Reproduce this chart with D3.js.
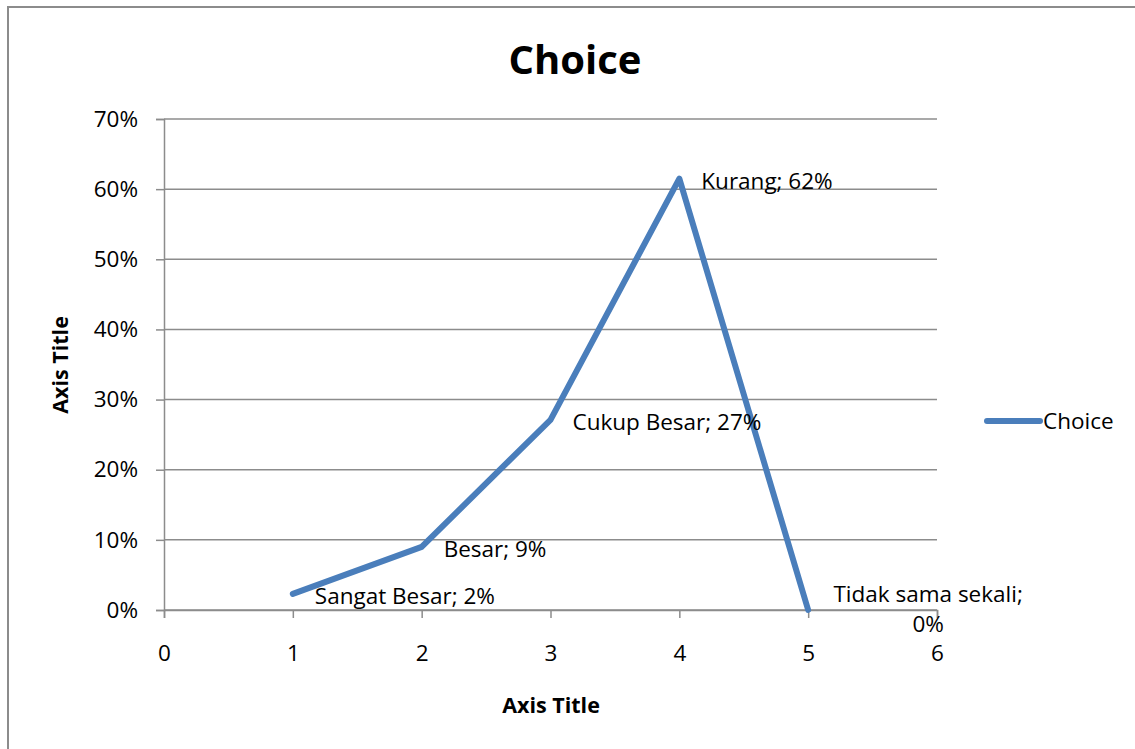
<!DOCTYPE html>
<html>
<head>
<meta charset="utf-8">
<script src="https://cdn.jsdelivr.net/npm/d3@7"></script>
<style>
  html, body { margin: 0; padding: 0; background: #fff; }
  svg { display: block; font-family: "Open Sans", "Noto Sans", sans-serif; }
</style>
</head>
<body>
<svg id="chart" width="1135" height="749"></svg>
<script>
const categories = ['Sangat Besar', 'Besar', 'Cukup Besar', 'Kurang', 'Tidak sama sekali'];
const xValues = [1, 2, 3, 4, 5];
const choiceValues = [0.023, 0.09, 0.271, 0.615, 0];
const yTicks = [0, 0.1, 0.2, 0.3, 0.4, 0.5, 0.6, 0.7];
const xTicks = [0, 1, 2, 3, 4, 5, 6];

const svg = d3.select('#chart');
const width = 1135;
const height = 749;
const margin = { left: 164, right: 198, top: 119, bottom: 139 };
const fontSize = '22.5px';

const x = d3.scaleLinear().domain([0, 6]).range([margin.left, width - margin.right]);
const y = d3.scaleLinear().domain([0, 0.7]).range([height - margin.bottom, margin.top]);

const lineColor = '#4a7ebb';
const gridColor = '#8c8c8c';

// outer frame
svg.append('rect')
  .attr('x', 8).attr('y', 7)
  .attr('width', width + 20).attr('height', height + 20)
  .attr('fill', 'none')
  .attr('stroke', gridColor)
  .attr('stroke-width', 2);

// title
svg.append('text')
  .attr('x', 575).attr('y', 74)
  .attr('text-anchor', 'middle')
  .attr('font-size', '40px')
  .attr('font-weight', 'bold')
  .text('Choice');

// gridlines
svg.append('g')
  .selectAll('line')
  .data(yTicks)
  .join('line')
  .attr('x1', x(0)).attr('x2', x(6))
  .attr('y1', (d) => y(d)).attr('y2', (d) => y(d))
  .attr('stroke', gridColor)
  .attr('stroke-width', 1.5);

// y axis
const yAxis = svg.append('g')
  .attr('transform', `translate(${x(0)},0)`)
  .call(d3.axisLeft(y).tickValues(yTicks).tickFormat(d3.format('.0%')).tickSize(8).tickPadding(18));
yAxis.select('.domain').attr('stroke', gridColor).attr('stroke-width', 1.5);
yAxis.selectAll('.tick line').attr('stroke', gridColor).attr('stroke-width', 1.5);
yAxis.selectAll('text').attr('font-size', fontSize).attr('fill', '#000').attr('font-family', '"Open Sans", sans-serif');

// x axis
const xAxis = svg.append('g')
  .attr('transform', `translate(0,${y(0)})`)
  .call(d3.axisBottom(x).tickValues(xTicks).tickFormat(d3.format('d')).tickSize(8).tickPadding(27));
xAxis.select('.domain').attr('stroke', gridColor).attr('stroke-width', 1.5);
xAxis.selectAll('.tick line').attr('stroke', gridColor).attr('stroke-width', 1.5);
xAxis.selectAll('text').attr('font-size', fontSize).attr('fill', '#000').attr('font-family', '"Open Sans", sans-serif');

// axis titles
svg.append('text')
  .attr('x', 551).attr('y', 713)
  .attr('text-anchor', 'middle')
  .attr('font-size', '21.5px')
  .attr('font-weight', 'bold')
  .text('Axis Title');

svg.append('text')
  .attr('transform', 'translate(68,365) rotate(-90)')
  .attr('text-anchor', 'middle')
  .attr('font-size', '21.5px')
  .attr('font-weight', 'bold')
  .text('Axis Title');

// series
const points = xValues.map((v, i) => ({ x: v, y: choiceValues[i], name: categories[i] }));
const line = d3.line().x((d) => x(d.x)).y((d) => y(d.y));

svg.append('path')
  .datum(points)
  .attr('d', line)
  .attr('fill', 'none')
  .attr('stroke', lineColor)
  .attr('stroke-width', 6)
  .attr('stroke-linecap', 'round')
  .attr('stroke-linejoin', 'round');

// data labels
const labels = svg.append('g')
  .attr('font-size', fontSize)
  .attr('fill', '#000');

points.forEach((d, i) => {
  if (i === points.length - 1) {
    const cx = x(d.x) + 120;
    const t = labels.append('text')
      .attr('text-anchor', 'middle')
      .attr('y', y(d.y) - 8);
    t.append('tspan').attr('x', cx).text(`${d.name};`);
    t.append('tspan').attr('x', cx).attr('dy', 30).text(`${Math.round(d.y * 100)}%`);
  } else {
    labels.append('text')
      .attr('x', x(d.x) + 22)
      .attr('y', y(d.y) + 10)
      .text(`${d.name}; ${Math.round(d.y * 100)}%`);
  }
});

// legend
const legend = svg.append('g').attr('transform', 'translate(987,421)');
legend.append('line')
  .attr('x1', 0).attr('x2', 53)
  .attr('y1', 0).attr('y2', 0)
  .attr('stroke', lineColor)
  .attr('stroke-width', 6)
  .attr('stroke-linecap', 'round');
legend.append('text')
  .attr('x', 56).attr('y', 8)
  .attr('font-size', fontSize)
  .text('Choice');
</script>
</body>
</html>
